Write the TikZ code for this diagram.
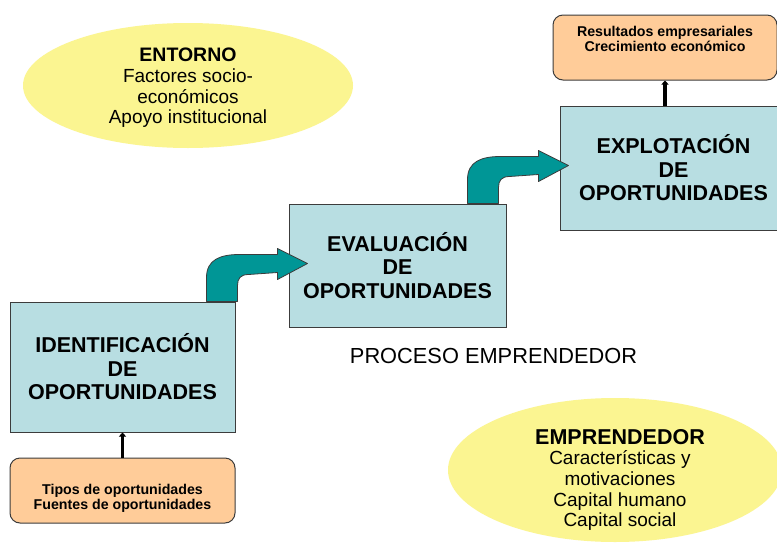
\documentclass[tikz,border=0pt]{standalone}
\usepackage{fontspec}
\setmainfont{Liberation Sans}
\usetikzlibrary{shapes.geometric,arrows.meta}
\definecolor{boxblue}{RGB}{184,222,226}
\definecolor{peach}{RGB}{255,204,153}
\definecolor{paleyellow}{RGB}{251,245,145}
\definecolor{tealc}{RGB}{0,150,150}
\definecolor{edge}{RGB}{60,60,60}
\begin{document}
\begin{tikzpicture}[x=1pt,y=-1pt,
 stagebox/.style={draw=edge,line width=1pt,fill=boxblue,inner sep=0pt,align=center,font=\fontsize{21.5pt}{23.5pt}\selectfont\bfseries},
 notebox/.style={draw=edge,line width=1pt,fill=peach,rounded corners=10pt,inner sep=0pt},
 notetext/.style={align=center,inner sep=0pt,font=\fontsize{14.2pt}{15pt}\selectfont\bfseries},
 cloud/.style={ellipse,fill=paleyellow,inner sep=0pt},
 cloudtext/.style={align=center,inner sep=0pt,font=\fontsize{19pt}{20.7pt}\selectfont},
 link/.style={line width=3.2pt,-{Triangle[width=7pt,length=4pt]}},
 bendstyle/.style={fill=tealc,draw=edge,line width=0.8pt,line join=round},
 bendarrow/.pic={\draw[bendstyle] (0,0) -- (0,-24) .. controls (0,-42) and (14,-47) .. (33,-47) -- (71,-47) -- (71,-53) -- (101,-38) -- (71,-22) -- (71,-29) -- (42,-27) .. controls (34,-27) and (31,-23) .. (31,-16) -- (31,0) -- cycle;}
]
\useasboundingbox (0,0) rectangle (777,544);
\fill[white] (0,0) rectangle (777,544);
\clip (0,0) rectangle (777,544);

% ellipses
\node[cloud,minimum width=330pt,minimum height=125pt] (env) at (188,85.5) {};
\node[cloudtext] (envt) at (188,88) {\textbf{\fontsize{19.5pt}{20.7pt}\selectfont ENTORNO}\\Factores socio-\\económicos\\Apoyo institucional};
\node[cloud,minimum width=334pt,minimum height=144pt] (ent) at (615,470) {};
\node[cloudtext] (entt) at (620,480) {\textbf{\fontsize{21.5pt}{20.7pt}\selectfont EMPRENDEDOR}\\Características y\\motivaciones\\Capital humano\\Capital social};

% stage boxes
\node[stagebox,minimum width=225pt,minimum height=130pt] (b1) at (122.5,367) {IDENTIFICACIÓN\\DE\\OPORTUNIDADES};
\node[stagebox,minimum width=217pt,minimum height=123pt] (b2) at (397.5,265.5) {EVALUACIÓN\\DE\\OPORTUNIDADES};
\node[stagebox,minimum width=227pt,minimum height=124pt] (b3) at (673.5,168) {EXPLOTACIÓN\\DE\\OPORTUNIDADES};

% orange notes
\node[notebox,minimum width=225pt,minimum height=65pt] (o1) at (122.5,490.5) {};
\node[notetext] (o1t) at (122.5,498.5) {Tipos de oportunidades\\Fuentes de oportunidades};
\node[notebox,minimum width=224pt,minimum height=65pt] (o2) at (665,47.5) {};
\node[notetext] (o2t) at (665,39) {Resultados empresariales\\Crecimiento económico};

% label
\node[anchor=base,inner sep=0pt,font=\fontsize{21.8pt}{24pt}\selectfont] (proc) at (493.5,363) {PROCESO EMPRENDEDOR};

% connectors
\draw[link] (o1.north) -- (b1.south);
\draw[link] (b3.north -| o2.south) -- (o2.south);

% bent arrows
\path (b1.north east) ++(-29,0) pic {bendarrow};
\path (b2.north east) ++(-39,0) pic {bendarrow};
\end{tikzpicture}
\end{document}
